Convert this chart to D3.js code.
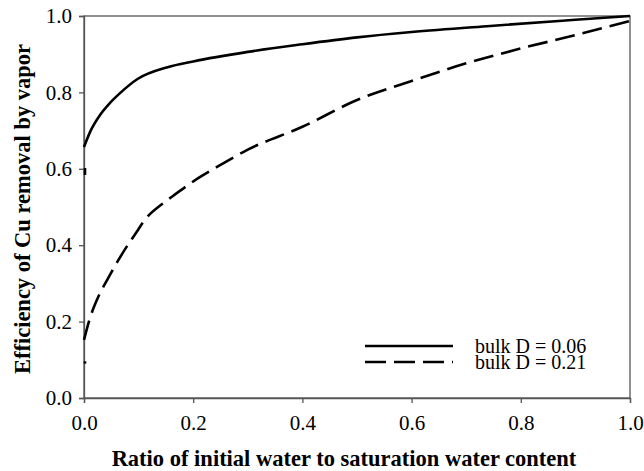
<!DOCTYPE html>
<html>
<head>
<meta charset="utf-8">
<script src="https://cdn.jsdelivr.net/npm/d3@7"></script>
<style>
  body { margin: 0; background: #fff; }
  svg { font-family: "Liberation Serif", "Times New Roman", serif; }
</style>
</head>
<body>
<svg id="chart"></svg>
<script>
// Data
const xTicks = [0, 0.2, 0.4, 0.6, 0.8, 1.0];
const yTicks = [0, 0.2, 0.4, 0.6, 0.8, 1.0];

const ratioD006 = [0, 0.011, 0.03, 0.048, 0.066, 0.098, 0.153, 0.2, 0.3, 0.4, 0.5, 0.6, 0.744, 0.9, 1.0];
const effD006   = [0.657, 0.696, 0.742, 0.773, 0.798, 0.835, 0.866, 0.881, 0.906, 0.926, 0.944, 0.958, 0.974, 0.99, 1.0];

const ratioD021 = [0, 0.01, 0.024, 0.044, 0.071, 0.097, 0.108, 0.145, 0.161, 0.212, 0.25, 0.3, 0.4, 0.5, 0.6, 0.7, 0.8, 0.9, 1.0];
const effD021   = [0.152, 0.205, 0.258, 0.313, 0.38, 0.436, 0.46, 0.51, 0.527, 0.578, 0.61, 0.65, 0.71, 0.78, 0.83, 0.876, 0.915, 0.95, 0.987];

// little stubs at x = 0 below each curve's start
const stubD006 = [0.602, 0.584];
const stubD021 = [0.096, 0.09];

const legendLabels = ["bulk D = 0.06", "bulk D = 0.21"];

const width = 644;
const height = 471;
const margin = {left: 84, right: 14, top: 16, bottom: 73};

const svg = d3.select("#chart")
    .attr("width", width)
    .attr("height", height);

const xScale = d3.scaleLinear()
    .domain([0, 1])
    .range([margin.left, width - margin.right]);

const yScale = d3.scaleLinear()
    .domain([0, 1])
    .range([height - margin.bottom, margin.top]);

// frame
svg.append("rect")
    .attr("x", xScale(0))
    .attr("y", yScale(1))
    .attr("width", xScale(1) - xScale(0))
    .attr("height", yScale(0) - yScale(1))
    .attr("fill", "none")
    .attr("stroke", "#555")
    .attr("stroke-width", 1.3);

// axes
const xAxis = d3.axisBottom(xScale)
    .tickValues(xTicks)
    .tickFormat(d3.format(".1f"))
    .tickSize(5)
    .tickPadding(12);

const yAxis = d3.axisLeft(yScale)
    .tickValues(yTicks)
    .tickFormat(d3.format(".1f"))
    .tickSize(5)
    .tickPadding(7);

const gx = svg.append("g")
    .attr("transform", "translate(0," + yScale(0) + ")")
    .call(xAxis);
const gy = svg.append("g")
    .attr("transform", "translate(" + xScale(0) + ",0)")
    .call(yAxis);

[gx, gy].forEach(g => {
    g.select(".domain").attr("stroke", "#555").attr("stroke-width", 1.3);
    g.selectAll(".tick line").attr("stroke", "#555").attr("stroke-width", 1.3);
    g.selectAll(".tick text")
        .attr("fill", "#000")
        .style("font-family", "'Liberation Serif', serif")
        .style("font-size", "21px");
});

// curves
const line = d3.line()
    .x(d => xScale(d[0]))
    .y(d => yScale(d[1]))
    .curve(d3.curveMonotoneX);

const seriesD006 = ratioD006.map((r, i) => [r, effD006[i]]);
const seriesD021 = ratioD021.map((r, i) => [r, effD021[i]]);

svg.append("path")
    .datum(seriesD006)
    .attr("d", line)
    .attr("fill", "none")
    .attr("stroke", "#000")
    .attr("stroke-width", 2.6);

svg.append("path")
    .datum(seriesD021)
    .attr("d", line)
    .attr("fill", "none")
    .attr("stroke", "#000")
    .attr("stroke-width", 2.6)
    .attr("stroke-dasharray", "20,8");

// stubs
const stubLine = d3.line()
    .x(() => xScale(0) + 1)
    .y(d => yScale(d));

[stubD006, stubD021].forEach(s => {
    svg.append("path")
        .attr("d", stubLine(s))
        .attr("stroke", "#000")
        .attr("stroke-width", 2.6)
        .attr("fill", "none");
});

// legend
const legend = svg.append("g");
const legendX = 365;
const legendY = [346, 362];

legendLabels.forEach((label, i) => {
    legend.append("line")
        .attr("x1", legendX)
        .attr("x2", legendX + 88)
        .attr("y1", legendY[i])
        .attr("y2", legendY[i])
        .attr("stroke", "#000")
        .attr("stroke-width", 2.6)
        .attr("stroke-dasharray", i === 1 ? "21,8" : null);
    legend.append("text")
        .attr("x", 475)
        .attr("y", legendY[i] + 7)
        .style("font-size", "20px")
        .text(label);
});

// axis titles
svg.append("text")
    .attr("x", 344)
    .attr("y", 466)
    .attr("text-anchor", "middle")
    .style("font-size", "22.5px")
    .style("font-weight", "bold")
    .text("Ratio of initial water to saturation water content");

svg.append("text")
    .attr("transform", "translate(30,209) rotate(-90)")
    .attr("text-anchor", "middle")
    .style("font-size", "22.5px")
    .style("font-weight", "bold")
    .text("Efficiency of Cu removal by vapor");
</script>
</body>
</html>
